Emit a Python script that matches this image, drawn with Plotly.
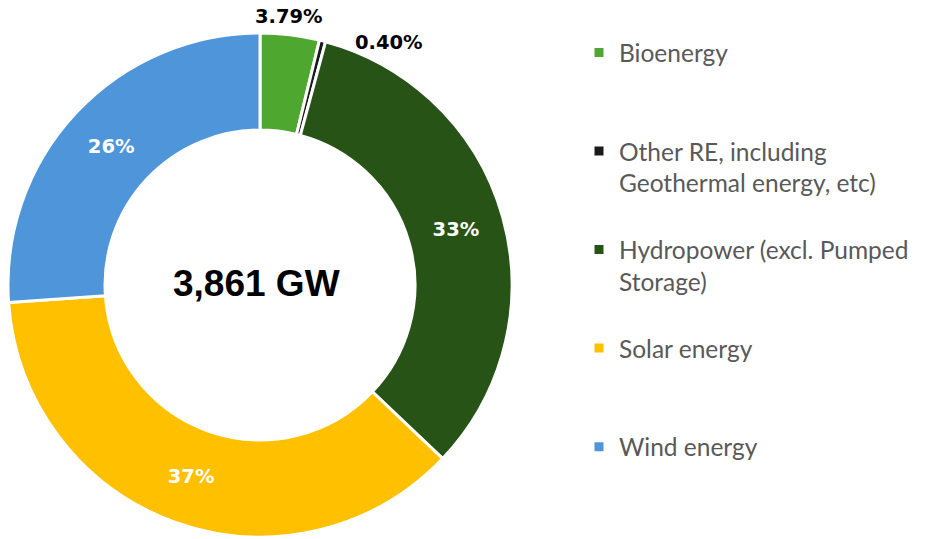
import plotly.graph_objects as go

categories = ["Bioenergy", "Other RE, including Geothermal energy, etc)",
              "Hydropower (excl. Pumped Storage)", "Solar energy", "Wind energy"]
legend_labels = ["Bioenergy<br>\u00a0<br>\u00a0",
                 "Other RE, including<br>Geothermal energy, etc)<br>\u00a0",
                 "Hydropower (excl. Pumped<br>Storage)<br>\u00a0",
                 "Solar energy<br>\u00a0<br>\u00a0",
                 "Wind energy<br>\u00a0<br>\u00a0"]
shares = [3.79, 0.40, 32.9, 36.8, 26.1]
share_text = ["3.79%", "0.40%", "33%", "37%", "26%"]
colors = ["#4EA72E", "#1A1A1A", "#275317", "#FFC000", "#4E95D9"]
total_text = "3,861 GW"

inside_text = [t if s > 5 else "" for t, s in zip(share_text, shares)]

fig = go.Figure(go.Pie(
    labels=legend_labels,
    values=shares,
    text=inside_text,
    textinfo="text",
    textposition="inside",
    insidetextorientation="horizontal",
    textfont=dict(family="DejaVu Sans", size=19.5, color="white", weight="bold"),
    hole=0.615,
    sort=False,
    direction="clockwise",
    rotation=0,
    marker=dict(colors=colors, line=dict(color="white", width=3)),
    domain=dict(x=[8/926, 512/926], y=[2/539, 506/539]),
    hoverinfo="label+percent",
))

fig.add_annotation(x=256/926, y=1-283/539, xref="paper", yref="paper", xanchor="center", yanchor="middle",
                   text=f"<b>{total_text}</b>",
                   showarrow=False, font=dict(family="Liberation Sans", size=37, color="black"))
fig.add_annotation(x=289/926, y=1-17/539, xref="paper", yref="paper", xanchor="center", yanchor="middle",
                   text=f"<b>{share_text[0]}</b>",
                   showarrow=False, font=dict(family="DejaVu Sans", size=19.5, color="black"))
fig.add_annotation(x=389/926, y=1-42/539, xref="paper", yref="paper", xanchor="center", yanchor="middle",
                   text=f"<b>{share_text[1]}</b>",
                   showarrow=False, font=dict(family="DejaVu Sans", size=19.5, color="black"))

fig.update_layout(
    width=926, height=539,
    margin=dict(l=0, r=0, t=0, b=0),
    paper_bgcolor="white",
    showlegend=True,
    legend=dict(x=579/926, xanchor="left", y=1-30/539, yanchor="top",
                valign="top", font=dict(family="Lato", size=24.5, color="#595959"),
                bgcolor="rgba(0,0,0,0)"),
)

fig.write_html("out.html", config={"displayModeBar": False},
               post_script="document.body.style.margin='0';document.body.style.overflow='hidden';")
